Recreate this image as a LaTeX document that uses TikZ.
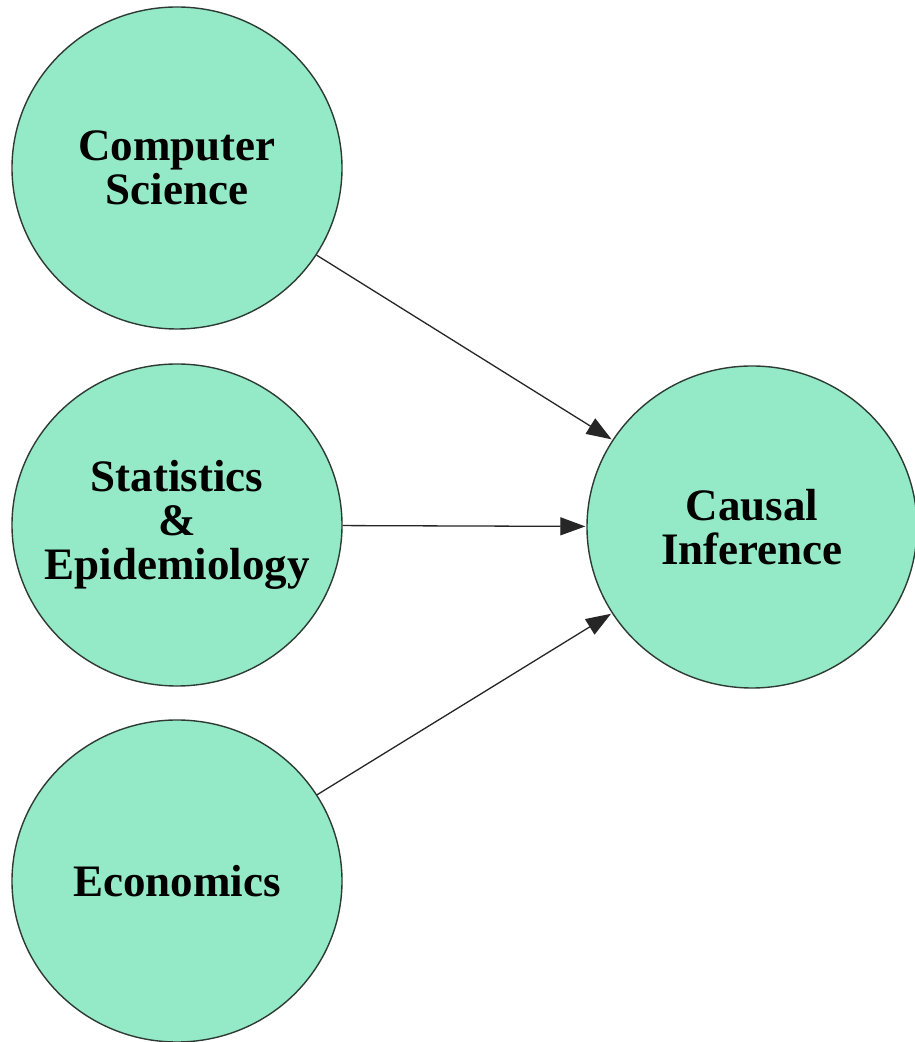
\documentclass[tikz,border=0pt]{standalone}
\usepackage{fontspec}
\setmainfont{Liberation Serif}
\usetikzlibrary{arrows.meta,shapes.geometric}
\definecolor{mint}{HTML}{94E9C6}
\definecolor{rim}{HTML}{2E3B35}
\tikzset{
  field/.style={ellipse, draw=rim, line width=1.4pt, fill=mint,
    minimum width=330pt, minimum height=322pt, inner sep=-60pt,
    align=center, font=\fontsize{45}{44}\selectfont\bfseries},
  link/.style={draw=black!85, line width=1.3pt,
    -{Triangle[length=25pt,width=18pt]}, shorten >=1pt}
}
\begin{document}
\begin{tikzpicture}[x=1pt,y=1pt]
  \useasboundingbox (0,0) rectangle (915,1042);
  \fill[white] (0,0) rectangle (915,1042);
  \node[field] (cs)     at (177,874) {Computer\\Science};
  \node[field] (stats)  at (177,517) {Statistics\\\&\\Epidemiology};
  \node[field] (econ)   at (177,161) {Economics};
  \node[field] (causal) at (752,515) {Causal\\Inference};
  \draw[link] (cs) -- (causal);
  \draw[link] (stats) -- (causal);
  \draw[link] (econ) -- (causal);
\end{tikzpicture}
\end{document}
